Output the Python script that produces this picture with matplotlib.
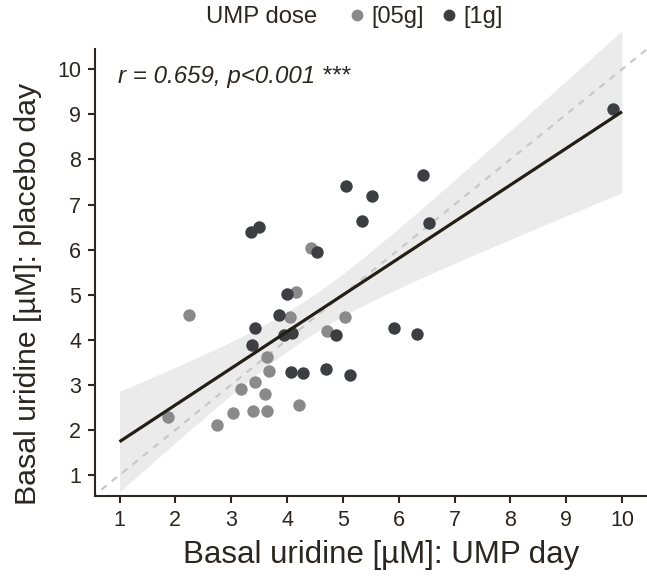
import numpy as np
import matplotlib
matplotlib.use("Agg")
import matplotlib.pyplot as plt
from matplotlib.lines import Line2D

plt.rcParams['font.family'] = ['Liberation Sans', 'DejaVu Sans']

# ---- data ----
dose_labels = ["[05g]", "[1g]"]
x_05g = [2.25, 4.43, 4.16, 4.05, 5.04, 4.72, 3.64, 3.67, 3.43, 3.18, 3.61, 4.22, 3.04, 3.39, 3.64, 2.75, 1.87]
y_05g = [4.55, 6.04, 5.06, 4.50, 4.51, 4.19, 3.62, 3.31, 3.06, 2.90, 2.80, 2.55, 2.37, 2.42, 2.41, 2.12, 2.29]
x_1g = [3.36, 3.50, 5.35, 4.53, 4.00, 3.86, 3.43, 3.94, 4.09, 3.38, 4.87, 5.91, 4.08, 4.29, 4.70, 5.13,
        5.05, 5.52, 6.43, 6.54, 6.32, 9.83]
y_1g = [6.38, 6.51, 6.63, 5.95, 5.02, 4.55, 4.27, 4.11, 4.16, 3.88, 4.11, 4.25, 3.28, 3.27, 3.35, 3.22,
        7.41, 7.20, 7.65, 6.59, 4.12, 9.11]
annot = "r = 0.659, p<0.001 ***"
xticks = list(range(1, 11))
yticks = list(range(1, 11))
t_crit = 2.026  # t(0.975, df=37)

col_05 = "#8a8a8a"
col_1 = "#3c3e42"
txt = "#2b2620"

W, H = 647, 579
fig = plt.figure(figsize=(W / 100, H / 100), dpi=100)

# axes geometry in pixels
x1px, x10px = 119.5, 622.0
y1px, y10px = 475.0, 69.3
ax_l, ax_r, ax_b, ax_t = 95, 647, 496, 26
ax = fig.add_axes([ax_l / W, 1 - ax_b / H, (ax_r - ax_l) / W, (ax_b - ax_t) / H])
xu = (x10px - x1px) / 9
yu = (y1px - y10px) / 9
xlim = (1 + (ax_l - x1px) / xu, 1 + (ax_r - x1px) / xu)
ylim = (1 - (ax_b - y1px) / yu, 1 + (y1px - ax_t) / yu)
ax.set_xlim(*xlim)
ax.set_ylim(*ylim)

# regression with CI
xa = np.array(x_05g + x_1g)
ya = np.array(y_05g + y_1g)
n = len(xa)
b, a = np.polyfit(xa, ya, 1)
resid = ya - (a + b * xa)
s = np.sqrt(np.sum(resid ** 2) / (n - 2))
xm = xa.mean()
sxx = np.sum((xa - xm) ** 2)
xs = np.linspace(1, 10, 200)
yhat = a + b * xs
se = s * np.sqrt(1 / n + (xs - xm) ** 2 / sxx)
ax.fill_between(xs, yhat - t_crit * se, yhat + t_crit * se, color="#ebebeb", lw=0, zorder=1)

# identity line
ax.plot([xlim[0] - 1, xlim[1] + 1], [xlim[0] - 1, xlim[1] + 1], ls=(0, (3, 3)), color="#c8c8c8", lw=1.6, zorder=2)

ax.scatter(x_05g, y_05g, s=80, color=col_05, lw=0, zorder=3)
ax.scatter(x_1g, y_1g, s=80, color=col_1, lw=0, zorder=3)

ax.plot(xs, yhat, color="#231f14", lw=2.3, zorder=4, solid_capstyle="butt")

# axes styling
for sp in ["top", "right"]:
    ax.spines[sp].set_visible(False)
for sp in ["left", "bottom"]:
    ax.spines[sp].set_linewidth(1.5)
    ax.spines[sp].set_color(txt)
ax.spines["left"].set_bounds(ylim[0], 1 + (y1px - 49) / yu)
ax.set_xticks(xticks)
ax.set_yticks(yticks)
ax.tick_params(axis="both", length=5, width=1.5, color=txt, labelcolor=txt, labelsize=15.5, pad=5)
ax.set_xlabel("Basal uridine [µM]: UMP day", fontsize=22.5, color=txt, va="center")
ax.set_ylabel("Basal uridine [µM]: placebo day", fontsize=21.8, color=txt, va="center")
ax.xaxis.set_label_coords(381 / W, 1 - 555 / H, transform=fig.transFigure)
ax.yaxis.set_label_coords(28 / W, 1 - 294 / H, transform=fig.transFigure)

ax.text(118 / W, 1 - 77 / H, annot, transform=fig.transFigure, fontsize=17.4, style="italic",
        color=txt, va="center", ha="left")

# legend
fig.text(206 / W, 1 - 17 / H, "UMP dose", fontsize=17.2, color=txt, va="center", ha="left")
handles = [Line2D([], [], marker="o", ls="none", color=col_05, markersize=7.5),
           Line2D([], [], marker="o", ls="none", color=col_1, markersize=7.5)]
leg = fig.legend(handles, dose_labels, ncol=2, loc="center left", bbox_to_anchor=(348 / W, 1 - 17 / H),
                 frameon=False, fontsize=17, handlelength=0.8, handletextpad=0.2, columnspacing=0.65,
                 borderpad=0, borderaxespad=0)
for t in leg.get_texts():
    t.set_color(txt)

fig.savefig("out.png", dpi=100)
